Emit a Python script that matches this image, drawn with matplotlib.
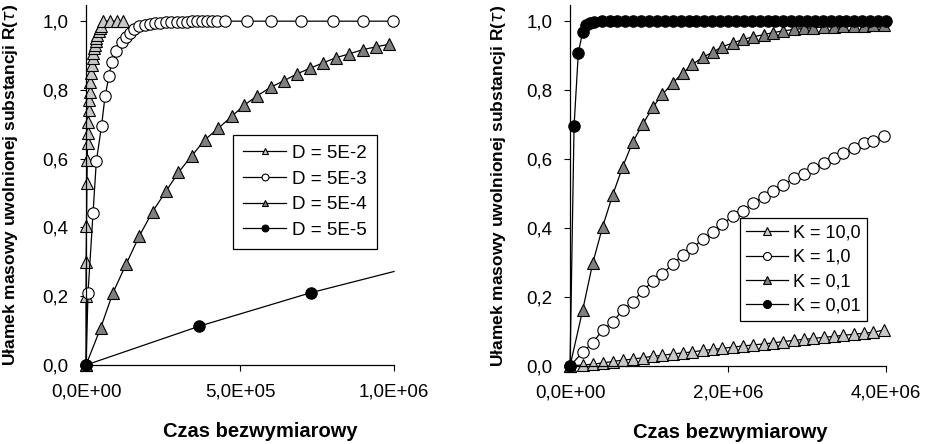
import matplotlib
matplotlib.use("Agg")
import matplotlib.pyplot as plt

plt.rcParams['font.family'] = ['Liberation Sans', 'DejaVu Sans']

# left panel: release for different D
d_labels = ["D = 5E-2", "D = 5E-3", "D = 5E-4", "D = 5E-5"]

x_d1 = [0, 0, 300, 1500, 3000, 4000, 5000, 5800, 7000, 9000, 10500, 12000, 14000,
        16000, 18000, 22000, 24000, 26000, 28000, 31000, 33000, 36000, 41000,
        45000, 49000, 55000, 77000, 99000, 120000]
y_d1 = [0, 0.2, 0.3, 0.404, 0.529, 0.596, 0.647, 0.674, 0.708, 0.742, 0.771, 0.795,
        0.824, 0.849, 0.873, 0.892, 0.907, 0.921, 0.931, 0.941, 0.951, 0.96, 0.97,
        0.98, 0.986, 1.0, 1.0, 1.0, 1.0]

x_d2 = [0, 6500, 22700, 33400, 50300, 61700, 74700, 83400, 97400, 115900, 129900,
        142900, 156800, 173100, 191600, 207800, 224000, 240300, 259800, 276000,
        294500, 310700, 327000, 343200, 359400, 375700, 391900, 408100, 424400,
        451300, 521800, 599700, 698100, 801000, 898400, 997800]
y_d2 = [0, 0.21, 0.441, 0.592, 0.695, 0.781, 0.841, 0.882, 0.914, 0.938, 0.953,
        0.965, 0.976, 0.986, 0.989, 0.992, 0.994, 0.996, 0.997, 0.998, 0.998,
        0.999, 0.999, 1.0, 1.0, 1.0, 1.0, 1.0, 1.0, 1.0, 1.0, 1.0, 1.0, 1.0, 1.0, 1.0]

x_d3 = [0, 48000, 87000, 130000, 173000, 216000, 260000, 300000, 343000, 386000,
        430000, 473000, 514000, 556000, 600000, 643000, 686000, 727000, 768000,
        812000, 855000, 898000, 940000, 984000]
y_d3 = [0, 0.109, 0.209, 0.293, 0.375, 0.446, 0.506, 0.56, 0.608, 0.655, 0.689,
        0.723, 0.756, 0.783, 0.808, 0.827, 0.847, 0.863, 0.878, 0.894, 0.905,
        0.917, 0.925, 0.933]

x_d4 = [0, 368000, 729000, 1000000]
y_d4 = [0, 0.113, 0.21, 0.272]

# right panel: release for different K
k_labels = ["K = 10,0", "K = 1,0", "K = 0,1", "K = 0,01"]

x_k = [0, 0.16e6, 0.287e6, 0.413e6, 0.54e6, 0.667e6, 0.794e6, 0.92e6, 1.047e6,
       1.17e6, 1.3e6, 1.43e6, 1.55e6, 1.68e6, 1.81e6, 1.93e6, 2.06e6, 2.19e6,
       2.32e6, 2.45e6, 2.57e6, 2.7e6, 2.83e6, 2.96e6, 3.08e6, 3.21e6, 3.34e6,
       3.46e6, 3.59e6, 3.72e6, 3.84e6, 3.97e6]
y_k1 = [0, 0.003, 0.005, 0.009, 0.013, 0.017, 0.02, 0.024, 0.028, 0.031, 0.035,
        0.038, 0.041, 0.045, 0.048, 0.051, 0.055, 0.058, 0.061, 0.064, 0.067,
        0.071, 0.074, 0.077, 0.08, 0.083, 0.086, 0.089, 0.092, 0.095, 0.098, 0.104]
y_k2 = [0, 0.04, 0.068, 0.104, 0.128, 0.162, 0.186, 0.218, 0.246, 0.267, 0.296,
        0.322, 0.343, 0.367, 0.389, 0.411, 0.435, 0.45, 0.473, 0.49, 0.508, 0.525,
        0.544, 0.557, 0.573, 0.588, 0.602, 0.617, 0.631, 0.646, 0.653, 0.667]
y_k3 = [0, 0.162, 0.298, 0.404, 0.496, 0.578, 0.65, 0.701, 0.75, 0.788, 0.821,
        0.85, 0.875, 0.895, 0.911, 0.926, 0.937, 0.947, 0.955, 0.961, 0.967, 0.972,
        0.976, 0.979, 0.981, 0.983, 0.984, 0.985, 0.986, 0.987, 0.988, 0.988]

x_k4 = [0, 0.051e6, 0.105e6, 0.16e6, 0.2e6, 0.25e6, 0.3e6, 0.4e6, 0.5e6, 0.6e6,
        0.7e6, 0.8e6, 0.9e6, 1.0e6, 1.1e6, 1.2e6, 1.3e6, 1.4e6, 1.5e6, 1.6e6,
        1.7e6, 1.8e6, 1.9e6, 2.0e6, 2.1e6, 2.2e6, 2.3e6, 2.4e6, 2.5e6, 2.6e6,
        2.7e6, 2.8e6, 2.9e6, 3.0e6, 3.1e6, 3.2e6, 3.3e6, 3.4e6, 3.5e6, 3.6e6,
        3.7e6, 3.8e6, 3.9e6, 4.0e6]
y_k4 = [0, 0.696, 0.909, 0.969, 0.988, 0.995, 0.998, 1.0, 1.0, 1.0,
        1.0, 1.0, 1.0, 1.0, 1.0, 1.0, 1.0, 1.0, 1.0, 1.0,
        1.0, 1.0, 1.0, 1.0, 1.0, 1.0, 1.0, 1.0, 1.0, 1.0,
        1.0, 1.0, 1.0, 1.0, 1.0, 1.0, 1.0, 1.0, 1.0, 1.0,
        1.0, 1.0, 1.0, 1.0]

y_ticks = [0, 0.2, 0.4, 0.6, 0.8, 1.0]
y_ticklabels = ["0,0", "0,2", "0,4", "0,6", "0,8", "1,0"]
xl_ticks = [0, 5e5, 1e6]
xl_ticklabels = ["0,0E+00", "5,0E+05", "1,0E+06"]
xr_ticks = [0, 2e6, 4e6]
xr_ticklabels = ["0,0E+00", "2,0E+06", "4,0E+06"]

light = "#c8c8c8"
dark = "#7f7f7f"
ms = 8.2
lw = 0.9
mew = 0.8

fig = plt.figure(figsize=(9.29, 4.44), dpi=100)
axl = fig.add_axes([0.0926, 0.1779, 0.3315, 0.8108])
axr = fig.add_axes([0.6136, 0.1757, 0.3401, 0.813])

common = dict(color="black", lw=lw, mec="black", mew=mew, ms=ms, clip_on=False)

axl.plot(x_d1, y_d1, marker="^", mfc=light, label=d_labels[0], **common)
axl.plot(x_d2, y_d2, marker="o", mfc="white", label=d_labels[1], **common)
axl.plot(x_d3, y_d3, marker="^", mfc=dark, label=d_labels[2], **common)
axl.plot(x_d4, y_d4, marker="o", mfc="black", markevery=[0, 1, 2],
         label=d_labels[3], **common)

axr.plot(x_k, y_k1, marker="^", mfc=light, label=k_labels[0], **common)
axr.plot(x_k, y_k2, marker="o", mfc="white", label=k_labels[1], **common)
axr.plot(x_k, y_k3, marker="^", mfc=dark, label=k_labels[2], **common)
axr.plot(x_k4, y_k4, marker="o", mfc="black", label=k_labels[3], **common)

ylabel = "Ułamek masowy uwolnionej substancji R(" + r"$\tau$" + ")"

for ax, xt, xtl, xmax in [(axl, xl_ticks, xl_ticklabels, 1e6),
                          (axr, xr_ticks, xr_ticklabels, 4e6)]:
    ax.set_xlim(0, xmax)
    ax.set_ylim(0, 1.047)
    ax.set_xticks(xt)
    ax.set_xticklabels(xtl)
    ax.set_yticks(y_ticks)
    ax.set_yticklabels(y_ticklabels)
    ax.spines["top"].set_visible(False)
    ax.spines["right"].set_visible(False)
    for s in ["left", "bottom"]:
        ax.spines[s].set_linewidth(0.9)
    ax.tick_params(direction="out", length=4.5, width=0.8, labelsize=13.5)
    ax.tick_params(axis="x", pad=9)
    ax.tick_params(axis="y", pad=8)
    ax.set_xlabel("Czas bezwymiarowy", fontsize=14.5, fontweight="bold")
    ax.set_ylabel(ylabel, fontsize=12.5, fontweight="bold")

axl.xaxis.set_label_coords(0.565, -0.158)
axr.xaxis.set_label_coords(0.506, -0.158)
axl.yaxis.set_label_coords(-0.214, 0.5)
axr.yaxis.set_label_coords(-0.196, 0.5)

legl = axl.legend(loc="upper left", bbox_to_anchor=(0.477, 0.64), borderaxespad=0,
                  fontsize=13.5, handlelength=2.3, markerscale=0.6, fancybox=False,
                  framealpha=1, edgecolor="black", labelspacing=0.45,
                  handletextpad=0.3, borderpad=0.55)
legl.get_frame().set_linewidth(0.9)
legr = axr.legend(loc="upper left", bbox_to_anchor=(0.538, 0.409), borderaxespad=0,
                  fontsize=13, handlelength=2.3, markerscale=0.7, fancybox=False,
                  framealpha=1, edgecolor="black", labelspacing=0.4,
                  handletextpad=0.3, borderpad=0.35)
legr.get_frame().set_linewidth(0.9)

fig.savefig("out.png", dpi=100)
